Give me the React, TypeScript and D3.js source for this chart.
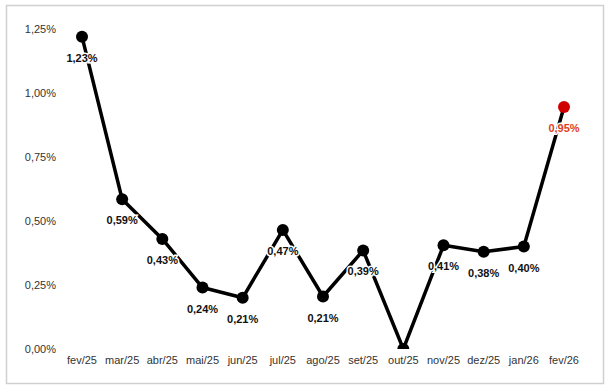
import React from "react";
import * as d3 from "d3";

const categories = ["fev/25","mar/25","abr/25","mai/25","jun/25","jul/25","ago/25","set/25","out/25","nov/25","dez/25","jan/26","fev/26"];
const values = [1.22, 0.585, 0.43, 0.24, 0.20, 0.465, 0.205, 0.385, 0.0, 0.405, 0.38, 0.40, 0.945];
const labels = ["1,23%","0,59%","0,43%","0,24%","0,21%","0,47%","0,21%","0,39%","","0,41%","0,38%","0,40%","0,95%"];
const yTicks = [0, 0.25, 0.5, 0.75, 1.0, 1.25];
const yTickLabels = ["0,00%","0,25%","0,50%","0,75%","1,00%","1,25%"];

const W = 609, H = 390;

export default function App() {
  const x = d3.scalePoint<string>().domain(categories).range([82, 564]);
  const y = d3.scaleLinear().domain([0, 1.25]).range([349, 29]);
  const line = d3.line<number>().x((_, i) => x(categories[i])!).y((d) => y(d));
  const font = "'Liberation Sans', Arial, sans-serif";
  return (
    <svg width={W} height={H} style={{ position: "absolute", left: 0, top: 0 }} fontFamily={font}>
      <defs>
        <clipPath id="plot">
          <rect x={60} y={10} width={540} height={y(0) - 10} />
        </clipPath>
      </defs>
      <rect x={6.5} y={5.5} width={597} height={378} fill="#fff" stroke="#d0d0d0" strokeWidth={1.5} />
      {yTicks.map((t, i) => (
        <text key={t} x={56} y={y(t)} dy="0.35em" textAnchor="end" fontSize={11} fill="#333">
          {yTickLabels[i]}
        </text>
      ))}
      {categories.map((c) => (
        <text key={c} x={x(c)!} y={364} textAnchor="middle" fontSize={11} fill="#333">
          {c}
        </text>
      ))}
      <g clipPath="url(#plot)">
        <path d={line(values)!} fill="none" stroke="#000" strokeWidth={3.5} strokeLinejoin="round" />
        {values.map((v, i) => (
          <circle key={i} cx={x(categories[i])!} cy={y(v)} r={6} fill={i === values.length - 1 ? "#d00000" : "#000"} />
        ))}
      </g>
      {values.map((v, i) =>
        labels[i] ? (
          <text
            key={"l" + i}
            x={x(categories[i])!}
            y={y(v) + 25}
            textAnchor="middle"
            fontSize={11}
            fontWeight="bold"
            fill={i === values.length - 1 ? "#e0401a" : "#111"}
            stroke="#fff"
            strokeWidth={3}
            paintOrder="stroke"
          >
            {labels[i]}
          </text>
        ) : null
      )}
    </svg>
  );
}
